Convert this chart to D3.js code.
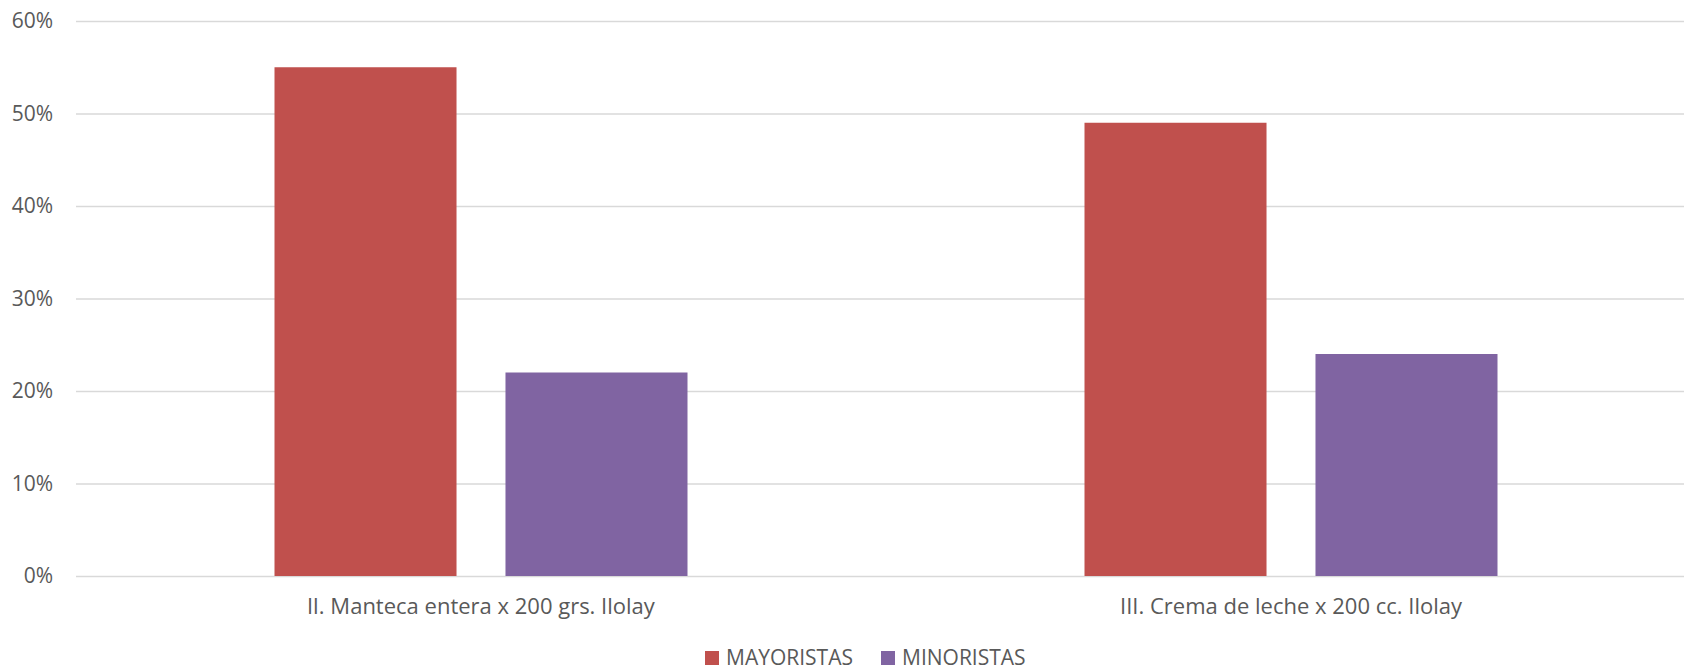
<!DOCTYPE html>
<html>
<head>
<meta charset="utf-8">
<script src="https://cdn.jsdelivr.net/npm/d3@7"></script>
<style>
  html, body { margin: 0; padding: 0; background: #fff; }
  svg { display: block; font-family: "Open Sans", sans-serif; }
</style>
</head>
<body>
<svg id="chart" width="1684" height="670"></svg>
<script>
const categories = ["lI. Manteca entera x 200 grs. Ilolay", "III. Crema de leche x 200 cc. Ilolay"];
const seriesNames = ["MAYORISTAS", "MINORISTAS"];
const mayoristas = [0.55, 0.49];
const minoristas = [0.22, 0.24];
const tickValues = [0, 0.1, 0.2, 0.3, 0.4, 0.5, 0.6];
const tickLabels = ["0%", "10%", "20%", "30%", "40%", "50%", "60%"];
const colors = ["#C0504D", "#8064A2"];

const W = 1684, H = 670;
const FONT = '"Open Sans", sans-serif';
const FS = "21px";
const FS_CAT = "22px";
const plot = { left: 76, right: 1696, top: 21, bottom: 576 };
const svg = d3.select("#chart");

const y = d3.scaleLinear().domain([0, 0.6]).range([plot.bottom, plot.top]);
const x0 = d3.scaleBand().domain(categories).range([plot.left, plot.right]).padding(0);
const groupW = 413;
const off = (x0.bandwidth() - groupW) / 2;
const x1 = d3.scaleBand().domain(seriesNames).range([off, off + groupW]).paddingInner(0.212).paddingOuter(0);

// gridlines + y labels
const yAxis = d3.axisLeft(y)
  .tickValues(tickValues)
  .tickFormat((d, i) => tickLabels[i])
  .tickSize(-(W - plot.left))
  .tickPadding(23);
const gy = svg.append("g").attr("transform", `translate(${plot.left},0)`).call(yAxis);
gy.select(".domain").remove();
gy.selectAll("line").attr("stroke", "#d9d9d9").attr("stroke-width", 1.5);
gy.selectAll("text").attr("fill", "#595959").style("font-size", FS).style("font-family", FONT);

// bars
const data = categories.map((c, i) => ({ cat: c, values: [mayoristas[i], minoristas[i]] }));
const groups = svg.append("g").selectAll("g").data(data).join("g")
  .attr("transform", d => `translate(${x0(d.cat)},0)`);
groups.selectAll("rect").data(d => d.values.map((v, j) => ({ s: seriesNames[j], v, j })))
  .join("rect")
  .attr("x", d => x1(d.s))
  .attr("width", x1.bandwidth())
  .attr("y", d => y(d.v))
  .attr("height", d => y(0) - y(d.v))
  .attr("fill", d => colors[d.j]);

// x axis labels
const xAxis = d3.axisBottom(x0).tickSize(0).tickPadding(0);
const gx = svg.append("g").attr("transform", `translate(0,${plot.bottom})`).call(xAxis);
gx.select(".domain").remove();
gx.selectAll("text").attr("fill", "#595959").attr("dy", null).attr("y", 38)
  .style("font-size", FS_CAT).style("font-family", FONT);

// legend
const legend = svg.append("g");
const legendX = [705, 881];
seriesNames.forEach((s, i) => {
  legend.append("rect").attr("x", legendX[i]).attr("y", 651).attr("width", 14).attr("height", 14).attr("fill", colors[i]);
  legend.append("text").attr("x", legendX[i] + 21).attr("y", 665).text(s)
    .attr("fill", "#595959").style("font-size", FS).style("font-family", FONT);
});
</script>
</body>
</html>
